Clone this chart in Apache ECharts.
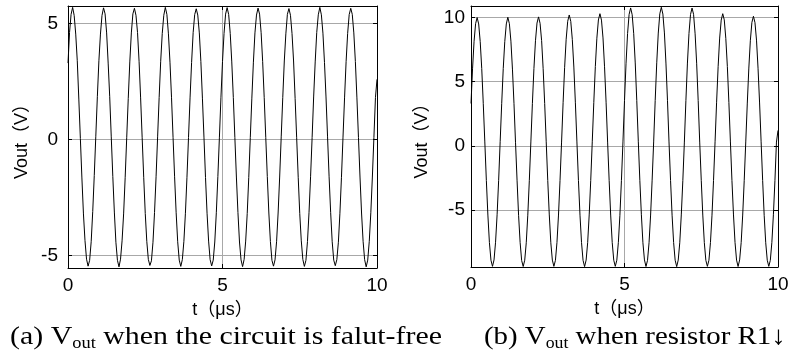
<!DOCTYPE html>
<html>
<head>
<meta charset="utf-8">
<script src="https://cdn.jsdelivr.net/npm/echarts@6/dist/echarts.min.js"></script>
<style>
  html, body { margin: 0; padding: 0; background: #fff; }
  #chart { width: 798px; height: 358px; }
</style>
</head>
<body>
<div id="chart"></div>
<script>
// sample interval of the scope traces, in µs
const sampleStep = 0.05;

// (a) fault-free output, one row per µs
const voutA = [
  3.30, 4.62, 5.40, 5.70, 5.35, 4.55, 3.40, 1.75, 0.05, -1.65, -3.20, -4.35, -5.15, -5.45, -5.20, -4.40, -3.10, -1.55, 0.15, 1.85,
  3.40, 4.55, 5.35, 5.68, 5.42, 4.60, 3.30, 1.85, 0.12, -1.58, -3.12, -4.42, -5.20, -5.48, -5.15, -4.36, -3.20, -1.64, 0.08, 1.78,
  3.35, 4.60, 5.42, 5.66, 5.36, 4.62, 3.38, 1.80, 0.08, -1.62, -3.18, -4.38, -5.16, -5.42, -5.22, -4.42, -3.14, -1.60, 0.12, 1.82,
  3.38, 4.57, 5.36, 5.70, 5.40, 4.56, 3.34, 1.83, 0.10, -1.60, -3.15, -4.40, -5.19, -5.46, -5.17, -4.38, -3.17, -1.62, 0.09, 1.80,
  3.33, 4.61, 5.39, 5.64, 5.37, 4.60, 3.37, 1.79, 0.11, -1.63, -3.17, -4.37, -5.17, -5.44, -5.19, -4.41, -3.15, -1.59, 0.11, 1.83,
  3.37, 4.58, 5.41, 5.69, 5.39, 4.58, 3.35, 1.82, 0.09, -1.61, -3.14, -4.41, -5.18, -5.47, -5.16, -4.37, -3.18, -1.63, 0.10, 1.79,
  3.34, 4.60, 5.37, 5.67, 5.41, 4.61, 3.36, 1.81, 0.10, -1.59, -3.16, -4.39, -5.20, -5.45, -5.18, -4.40, -3.16, -1.61, 0.12, 1.81,
  3.39, 4.56, 5.40, 5.65, 5.36, 4.57, 3.39, 1.78, 0.08, -1.62, -3.19, -4.36, -5.16, -5.46, -5.20, -4.39, -3.13, -1.60, 0.09, 1.84,
  3.35, 4.62, 5.38, 5.70, 5.38, 4.59, 3.33, 1.84, 0.12, -1.60, -3.13, -4.40, -5.19, -5.43, -5.17, -4.42, -3.17, -1.62, 0.11, 1.80,
  3.36, 4.58, 5.39, 5.66, 5.40, 4.60, 3.37, 1.80, 0.10, -1.61, -3.16, -4.38, -5.17, -5.48, -5.19, -4.38, -3.15, -1.61, 0.10, 1.82,
  2.60
];

// (b) output with R1 decreased
const voutB = [
  3.30, 6.00, 8.15, 9.52, 10.00, 9.50, 8.12, 6.02, 3.28, 0.30, -2.70, -5.40, -7.55, -8.92, -9.40, -8.90, -7.52, -5.38, -2.72, 0.32,
  3.28, 6.02, 8.12, 9.50, 10.02, 9.52, 8.16, 5.98, 3.31, 0.28, -2.68, -5.42, -7.53, -8.94, -9.41, -8.92, -7.56, -5.41, -2.69, 0.30,
  3.31, 6.03, 8.19, 9.57, 10.05, 9.55, 8.20, 6.01, 3.30, 0.31, -2.71, -5.39, -7.56, -8.91, -9.40, -8.93, -7.54, -5.40, -2.70, 0.29,
  3.36, 6.12, 8.31, 9.71, 10.20, 9.70, 8.30, 6.14, 3.35, 0.30, -2.70, -5.41, -7.54, -8.93, -9.42, -8.91, -7.55, -5.39, -2.71, 0.31,
  3.39, 6.18, 8.39, 9.81, 10.30, 9.80, 8.41, 6.16, 3.40, 0.29, -2.69, -5.40, -7.55, -8.92, -9.40, -8.92, -7.53, -5.42, -2.70, 0.30,
  3.53, 6.44, 8.75, 10.24, 10.75, 10.22, 8.74, 6.46, 3.52, 0.31, -2.72, -5.38, -7.56, -8.90, -9.41, -8.93, -7.55, -5.40, -2.68, 0.30,
  3.54, 6.47, 8.79, 10.29, 10.80, 10.27, 8.80, 6.45, 3.55, 0.30, -2.70, -5.41, -7.54, -8.92, -9.42, -8.91, -7.56, -5.39, -2.71, 0.29,
  3.52, 6.45, 8.76, 10.23, 10.74, 10.25, 8.73, 6.44, 3.53, 0.29, -2.69, -5.40, -7.55, -8.93, -9.40, -8.92, -7.54, -5.41, -2.70, 0.31,
  3.40, 6.17, 8.40, 9.80, 10.30, 9.82, 8.38, 6.19, 3.38, 0.30, -2.71, -5.39, -7.53, -8.91, -9.41, -8.90, -7.55, -5.40, -2.69, 0.30,
  3.33, 6.06, 8.23, 9.62, 10.10, 9.60, 8.24, 6.05, 3.34, 0.31, -2.70, -5.42, -7.56, -8.92, -9.40, -8.93, -7.53, -5.38, -2.72, 0.29,
  1.20
];

const xRange = [0, 10];
const yRangeA = [-5.53, 5.76];
const yRangeB = [-9.45, 10.9];
const captionA = ['(a) V', 'out', ' when the circuit is falut-free'];
const captionB = ['(b) V', 'out', ' when resistor R1\u2193'];

const sansFont = '"Liberation Sans", Arial, "Noto Sans CJK SC", sans-serif';
const serifFont = '"Liberation Serif", "Times New Roman", serif';
const gridColor = '#a8a8a8';

const toPoints = (values) => values.map((v, i) => [+(i * sampleStep).toFixed(2), v]);

function mainX(gridIndex) {
  return {
    type: 'value', gridIndex, min: xRange[0], max: xRange[1], interval: 5,
    name: 't\uff08\u03bcs\uff09', nameLocation: 'middle', nameGap: 33,
    nameTextStyle: { fontFamily: sansFont, fontSize: 18, color: '#000' },
    axisLine: { show: true, onZero: false, lineStyle: { color: '#000', width: 1 } },
    axisTick: { show: true, inside: true, length: 4, lineStyle: { color: '#000' } },
    axisLabel: { fontFamily: sansFont, fontSize: 19, color: '#000', margin: 8 },
    splitLine: { show: true, lineStyle: { color: gridColor, width: 1 } }
  };
}

function boxX(gridIndex) {
  return {
    type: 'value', gridIndex, position: 'top', min: xRange[0], max: xRange[1], interval: 5,
    axisLine: { show: true, onZero: false, lineStyle: { color: '#000', width: 1 } },
    axisTick: { show: true, inside: true, length: 4, lineStyle: { color: '#000' } },
    axisLabel: { show: false },
    splitLine: { show: false }
  };
}

function mainY(gridIndex, range, splitNumber, nameGap, labelMargin) {
  return {
    type: 'value', gridIndex, min: range[0], max: range[1], splitNumber,
    name: 'Vout\uff08V\uff09', nameLocation: 'middle', nameGap,
    nameTextStyle: { fontFamily: sansFont, fontSize: 18, color: '#000' },
    axisLine: { show: true, onZero: false, lineStyle: { color: '#000', width: 1 } },
    axisTick: { show: true, inside: true, length: 4, lineStyle: { color: '#000' } },
    axisLabel: { fontFamily: sansFont, fontSize: 19, color: '#000', margin: labelMargin,
      showMinLabel: false, showMaxLabel: false },
    splitLine: { show: true, lineStyle: { color: gridColor, width: 1 } }
  };
}

function boxY(gridIndex, range, splitNumber) {
  return {
    type: 'value', gridIndex, position: 'right', min: range[0], max: range[1], splitNumber,
    axisLine: { show: true, onZero: false, lineStyle: { color: '#000', width: 1 } },
    axisTick: { show: true, inside: true, length: 4, lineStyle: { color: '#000' } },
    axisLabel: { show: false },
    splitLine: { show: false }
  };
}

function caption(parts, left, stretch) {
  return {
    type: 'text', left, top: 324, scaleX: stretch,
    style: {
      text: '{m|' + parts[0] + '}{s|' + parts[1] + '}{m|' + parts[2] + '}',
      rich: {
        m: { fontFamily: serifFont, fontSize: 26, lineHeight: 30, fill: '#000' },
        s: { fontFamily: serifFont, fontSize: 16, lineHeight: 16, fill: '#000', verticalAlign: 'bottom' }
      }
    }
  };
}

const chart = echarts.init(document.getElementById('chart'), null, { renderer: 'canvas' });
chart.setOption({
  animation: false,
  backgroundColor: '#fff',
  grid: [
    { left: 68, top: 6, width: 309, height: 262 },
    { left: 471, top: 6, width: 307, height: 261 }
  ],
  xAxis: [mainX(0), boxX(0), mainX(1), boxX(1)],
  yAxis: [
    mainY(0, yRangeA, 2, 37, 10), boxY(0, yRangeA, 2),
    mainY(1, yRangeB, 4, 40, 6), boxY(1, yRangeB, 4)
  ],
  series: [
    {
      type: 'line', xAxisIndex: 0, yAxisIndex: 0, data: toPoints(voutA),
      step: 'end', showSymbol: false, clip: true,
      lineStyle: { color: '#000', width: 1 }
    },
    {
      type: 'line', xAxisIndex: 2, yAxisIndex: 2, data: toPoints(voutB),
      step: 'end', showSymbol: false, clip: true,
      lineStyle: { color: '#000', width: 1 }
    }
  ],
  graphic: [caption(captionA, 10, 1.15), caption(captionB, 484, 1.11)]
});
</script>
</body>
</html>
